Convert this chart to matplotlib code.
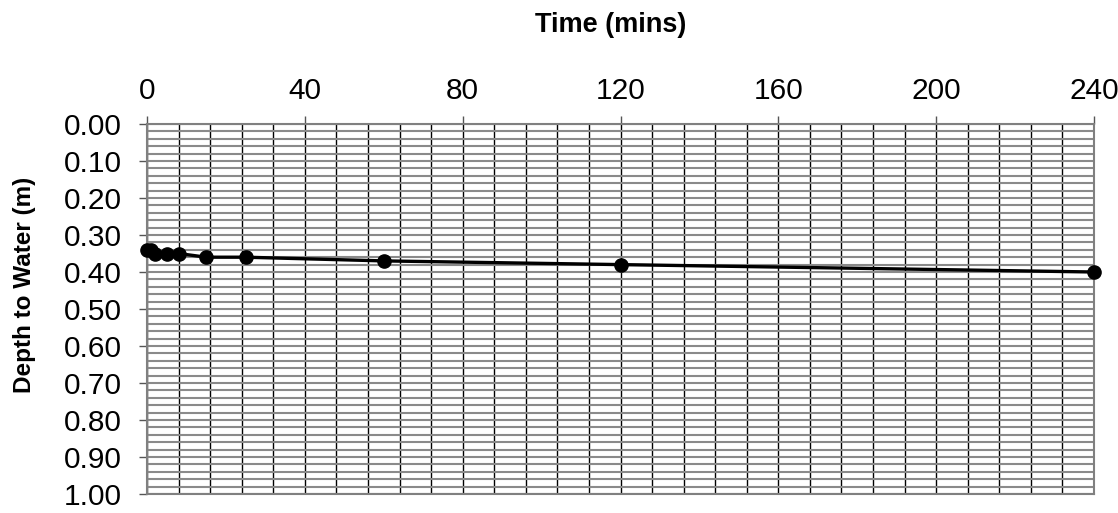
import matplotlib
matplotlib.use("Agg")
import matplotlib.pyplot as plt
from matplotlib.ticker import MultipleLocator, FormatStrFormatter

time_mins = [0, 1, 2, 5, 8, 15, 25, 60, 120, 240]
depth_m = [0.34, 0.34, 0.35, 0.35, 0.35, 0.36, 0.36, 0.37, 0.38, 0.40]
x_ticks = [0, 40, 80, 120, 160, 200, 240]
y_ticks = [0.0, 0.1, 0.2, 0.3, 0.4, 0.5, 0.6, 0.7, 0.8, 0.9, 1.0]

plt.rcParams['font.family'] = ['Liberation Sans', 'DejaVu Sans']

fig = plt.figure(figsize=(11.18, 5.13), dpi=100)
ax = fig.add_axes([147/1118, 1-494/513, (1094-147)/1118, (494-124)/513])

ax.set_xlim(0, 240)
ax.set_ylim(1.0, 0.0)
ax.xaxis.tick_top()
ax.set_xticks(x_ticks)
ax.set_yticks(y_ticks)
ax.xaxis.set_minor_locator(MultipleLocator(8))
ax.yaxis.set_minor_locator(MultipleLocator(0.02))
ax.yaxis.set_major_formatter(FormatStrFormatter('%.2f'))

ax.tick_params(which='major', length=6, width=1.0, color='#555555',
               labelsize=21.5, direction='out')
ax.tick_params(axis='x', which='major', pad=8)
ax.tick_params(axis='y', which='major', pad=12)
ax.tick_params(which='minor', length=0)

ax.grid(True, which='both', axis='x', color='#000000', lw=1.0)
ax.grid(True, which='both', axis='y', color='#8a8a8a', lw=1.5)
ax.set_axisbelow(True)

for s in ax.spines.values():
    s.set_color('#808080')
    s.set_linewidth(1.5)

ax.plot(time_mins, depth_m, color='black', lw=2.4, marker='o',
        markersize=9.5, zorder=5, clip_on=False)

fig.text(611/1118, 1-25/513, 'Time (mins)', ha='center', va='center',
         fontsize=19.5, fontweight='bold')
fig.text(25/1118, 1-285/513, 'Depth to Water (m)', ha='center', va='center',
         rotation=90, fontsize=17.5, fontweight='bold')

fig.savefig('out.png', dpi=100)
